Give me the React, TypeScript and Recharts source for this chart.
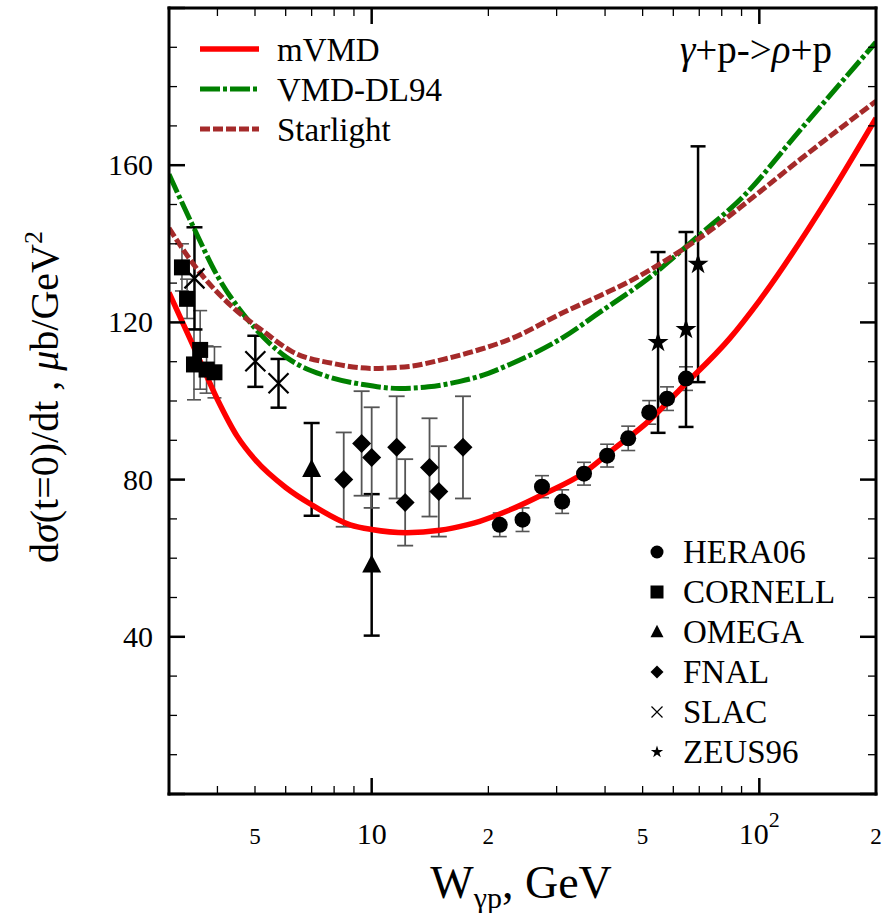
import React from 'react';
import { ComposedChart, Line, Scatter, ErrorBar, XAxis, YAxis } from 'recharts';

const FONT = '"Liberation Serif", "DejaVu Serif", "Times New Roman", serif';

// model curves: W (GeV) and dsigma/dt(t=0) (mub/GeV^2)
const mvmdW = [3, 3.5, 4, 4.5, 5, 6, 7, 8.8, 10, 12.3, 15, 17.6, 19, 23, 28.3, 35, 42, 52, 62.5, 84, 100, 150, 200];
const mvmdSigma = [127.6, 113.1, 100.4, 91, 85.1, 78, 73.6, 68.5, 67.3, 66.5, 67.1, 68.5, 69.4, 72.5, 76.7, 81.5, 87.7, 95, 103, 116, 125.5, 151.5, 172];

const dl94W = [3, 3.49, 3.98, 4.78, 6.03, 7.65, 9.5, 11.8, 14, 16.9, 19, 22.7, 31.2, 38.8, 51.4, 70.4, 91, 127.6, 200];
const dl94Sigma = [157.7, 143.7, 132.2, 120.8, 111.1, 106.3, 104.2, 103.2, 103.6, 105, 106.3, 109.3, 116.2, 122.6, 131, 142.4, 152.1, 169, 191.3];

const starlightW = [3, 3.55, 4.35, 5.29, 6.25, 8, 10, 12.5, 15.3, 19, 22.7, 31.2, 38.8, 46.4, 57.8, 75, 94.8, 127.6, 200];
const starlightSigma = [144, 133.5, 124.1, 117.5, 112.5, 109.5, 108.3, 108.8, 110.6, 113.1, 115.7, 122.5, 126.8, 130.5, 136, 143.5, 151.3, 161.5, 176.3];

// measurements
const heraW = [21.4, 24.5, 27.5, 31.0, 35.3, 40.5, 45.9, 52.0, 57.8, 64.7];
const heraSigma = [68.5, 69.8, 78.2, 74.4, 81.5, 86.1, 90.5, 97.1, 100.6, 105.7];
const heraErr = [3, 3, 2.8, 3, 2.9, 2.9, 3.1, 3, 3, 3];

const cornellW = [3.24, 3.34, 3.61, 3.48, 3.75, 3.93];
const cornellSigma = [134, 126, 113, 109.3, 108, 107.3];
const cornellErr = [6, 5, 10, 9, 6, 6.5];

const omegaW = [7.0, 10.0];
const omegaSigma = [82.6, 58.3];
const omegaErr = [11.8, 18];

const fnalW = [8.47, 9.42, 10.0, 11.6, 12.2, 14.1, 14.9, 17.2];
const fnalSigma = [80, 89.2, 85.6, 88.2, 74.2, 83.1, 77, 88.2];
const fnalErr = [12, 13.3, 12.8, 13, 11, 12.5, 11.5, 13];

const slacW = [3.49, 5.01, 5.75];
const slacSigma = [131.2, 110.1, 104.5];
const slacErr = [13, 6.5, 6.2];

const zeusW = [54.8, 64.7, 69.5];
const zeusSigma = [114.9, 118.2, 134.8];
const zeusErr = [23, 24.8, 30];

// axes
const xMinorTicks = [4, 5, 6, 7, 8, 9, 20, 30, 40, 50, 60, 70, 80, 90, 200];
const xMajorTicks = [10, 100];
const xLabelValues = [5, 10, 20, 50, 100, 200];
const xLabelText = ['5', '10', '2', '5', '10', '2'];
const xLabelSup = ['', '', '', '', '2', ''];
const yTicks = [0, 10, 20, 30, 40, 50, 60, 70, 80, 90, 100, 110, 120, 130, 140, 150, 160, 170, 180, 190, 200];
const yMajorTicks = [0, 40, 80, 120, 160, 200];
const yLabelValues = [40, 80, 120, 160];

const toPoints = (w: number[], s: number[], e?: number[]) =>
  w.map((x, i) => ({ x, y: s[i], err: e ? e[i] : 0 }));

const curves = [
  { name: 'mVMD', data: toPoints(mvmdW, mvmdSigma), color: '#ff0000', dash: undefined, width: 5.5 },
  { name: 'VMD-DL94', data: toPoints(dl94W, dl94Sigma), color: '#008000', dash: '20 3 4 3', width: 5 },
  { name: 'Starlight', data: toPoints(starlightW, starlightSigma), color: '#a52a2a', dash: '10 3', width: 5 },
];

const experiments = [
  { name: 'HERA06', marker: 'circle', data: toPoints(heraW, heraSigma, heraErr), bar: '#555', barW: 1.6, cap: 7, size: 16 },
  { name: 'CORNELL', marker: 'square', data: toPoints(cornellW, cornellSigma, cornellErr), bar: '#555', barW: 1.6, cap: 7, size: 16 },
  { name: 'OMEGA', marker: 'triangle', data: toPoints(omegaW, omegaSigma, omegaErr), bar: '#000', barW: 2.5, cap: 8, size: 19 },
  { name: 'FNAL', marker: 'diamond', data: toPoints(fnalW, fnalSigma, fnalErr), bar: '#555', barW: 1.8, cap: 8, size: 19 },
  { name: 'SLAC', marker: 'cross', data: toPoints(slacW, slacSigma, slacErr), bar: '#000', barW: 2.5, cap: 8, size: 20 },
  { name: 'ZEUS96', marker: 'star', data: toPoints(zeusW, zeusSigma, zeusErr), bar: '#000', barW: 2.5, cap: 7.5, size: 22 },
];

const drawMarker = (kind: string, cx: number, cy: number, s: number, thin = false) => {
  const h = s / 2;
  switch (kind) {
    case 'circle':
      return <circle cx={cx} cy={cy} r={h} fill="#000" />;
    case 'square':
      return <rect x={cx - h} y={cy - h} width={s} height={s} fill="#000" />;
    case 'triangle':
      return <polygon points={`${cx},${cy - s * 0.55} ${cx - h},${cy + s * 0.4} ${cx + h},${cy + s * 0.4}`} fill="#000" />;
    case 'diamond':
      return <polygon points={`${cx},${cy - h} ${cx + h},${cy} ${cx},${cy + h} ${cx - h},${cy}`} fill="#000" />;
    case 'cross':
      return (
        <path
          d={`M${cx - h},${cy - h}L${cx + h},${cy + h}M${cx - h},${cy + h}L${cx + h},${cy - h}`}
          stroke="#000"
          strokeWidth={thin ? 1.2 : 2.2}
          fill="none"
        />
      );
    default: {
      const pts = [];
      for (let k = 0; k < 10; k++) {
        const r = k % 2 === 0 ? h : h * 0.38;
        const a = -Math.PI / 2 + (k * Math.PI) / 5;
        pts.push(`${cx + r * Math.cos(a)},${cy + r * Math.sin(a)}`);
      }
      return <polygon points={pts.join(' ')} fill="#000" />;
    }
  }
};

const frame = { stroke: '#000', strokeWidth: 3, strokeLinecap: 'square' as const };
const txt = { fontFamily: FONT, fill: '#000' };

const bottomTick = (p: any) => {
  const v = p.payload.value;
  const major = xMajorTicks.includes(v);
  const i = xLabelValues.indexOf(v);
  return (
    <g>
      <line x1={p.x} x2={p.x} y1={p.y} y2={p.y - (major ? 16 : 8)} stroke="#000" strokeWidth={major ? 2.5 : 1.3} />
      {i >= 0 && (
        <text x={p.x} y={p.y + 50} textAnchor="middle" fontSize={major ? 30 : 23} style={txt}>
          {xLabelText[i]}
          {xLabelSup[i] && (
            <tspan dy={-17} fontSize={22}>
              {xLabelSup[i]}
            </tspan>
          )}
        </text>
      )}
    </g>
  );
};

const topTick = (p: any) => {
  const major = xMajorTicks.includes(p.payload.value);
  return <line x1={p.x} x2={p.x} y1={p.y} y2={p.y + (major ? 16 : 8)} stroke="#000" strokeWidth={major ? 2.5 : 1.3} />;
};

const leftTick = (p: any) => {
  const v = p.payload.value;
  const major = yMajorTicks.includes(v);
  return (
    <g>
      <line x1={p.x} x2={p.x + (major ? 16 : 8)} y1={p.y} y2={p.y} stroke="#000" strokeWidth={major ? 2.5 : 1.3} />
      {yLabelValues.includes(v) && (
        <text x={p.x - 16} y={p.y + 10} textAnchor="end" fontSize={30} style={txt}>
          {v}
        </text>
      )}
    </g>
  );
};

const rightTick = (p: any) => {
  const major = yMajorTicks.includes(p.payload.value);
  return <line x1={p.x} x2={p.x - (major ? 16 : 8)} y1={p.y} y2={p.y} stroke="#000" strokeWidth={major ? 2.5 : 1.3} />;
};

export default function App() {
  return (
    <div style={{ position: 'absolute', left: 0, top: 0, width: 889, height: 913, background: '#fff', fontFamily: FONT }}>
      <ComposedChart width={889} height={913} margin={{ top: 7, right: 12, bottom: 59, left: 109 }}>
        <XAxis
          xAxisId="b"
          dataKey="x"
          type="number"
          scale="log"
          domain={[3, 200]}
          allowDataOverflow
          ticks={[...xMinorTicks, ...xMajorTicks]}
          interval={0}
          tickSize={0}
          tickMargin={0}
          tickLine={false}
          axisLine={frame}
          height={60}
          tick={bottomTick}
        />
        <XAxis
          xAxisId="t"
          orientation="top"
          dataKey="x"
          type="number"
          scale="log"
          domain={[3, 200]}
          allowDataOverflow
          ticks={[...xMinorTicks, ...xMajorTicks]}
          interval={0}
          tickSize={0}
          tickMargin={0}
          tickLine={false}
          axisLine={frame}
          height={1}
          tick={topTick}
        />
        <YAxis
          yAxisId="l"
          dataKey="y"
          type="number"
          domain={[0, 200]}
          allowDataOverflow
          ticks={yTicks}
          interval={0}
          tickSize={0}
          tickMargin={0}
          tickLine={false}
          axisLine={frame}
          width={60}
          tick={leftTick}
        />
        <YAxis
          yAxisId="r"
          orientation="right"
          dataKey="y"
          type="number"
          domain={[0, 200]}
          allowDataOverflow
          ticks={yTicks}
          interval={0}
          tickSize={0}
          tickMargin={0}
          tickLine={false}
          axisLine={frame}
          width={1}
          tick={rightTick}
        />
        {experiments.map((e) => (
          <Scatter
            key={e.name}
            name={e.name}
            data={e.data}
            dataKey="y"
            xAxisId="b"
            yAxisId="l"
            isAnimationActive={false}
            shape={(p: any) => drawMarker(e.marker, p.cx, p.cy, e.size)}
          >
            <ErrorBar dataKey="err" direction="y" width={e.cap} stroke={e.bar} strokeWidth={e.barW} />
          </Scatter>
        ))}
        {curves.map((c) => (
          <Line
            key={c.name}
            name={c.name}
            data={c.data}
            dataKey="y"
            xAxisId="b"
            yAxisId="l"
            type="monotone"
            stroke={c.color}
            strokeWidth={c.width}
            strokeDasharray={c.dash}
            dot={false}
            activeDot={false}
            isAnimationActive={false}
          />
        ))}
      </ComposedChart>
      <svg
        width={889}
        height={913}
        style={{ position: 'absolute', left: 0, top: 0, pointerEvents: 'none', fontFamily: FONT }}
      >
        {curves.map((c, i) => (
          <g key={c.name}>
            <line x1={200} x2={259} y1={49 + i * 40} y2={49 + i * 40} stroke={c.color} strokeWidth={c.width} strokeDasharray={c.dash} />
            <text x={277} y={61 + i * 40} fontSize={33} style={txt}>
              {c.name}
            </text>
          </g>
        ))}
        {experiments.map((e, i) => (
          <g key={e.name}>
            {drawMarker(e.marker, 657, 552 + i * 40, e.marker === 'cross' ? 11 : 13, true)}
            <text x={683} y={563 + i * 40} fontSize={33} style={txt}>
              {e.name}
            </text>
          </g>
        ))}
        <text x={832} y={63} textAnchor="end" fontSize={39} style={txt}>
          <tspan fontStyle="italic">γ</tspan>+p-&gt;<tspan fontStyle="italic">ρ</tspan>+p
        </text>
        <text x={521} y={898} textAnchor="middle" fontSize={46} style={{ ...txt, whiteSpace: 'pre' }}>
          W<tspan dy={10} fontSize={30}>γp</tspan>
          <tspan dy={-10}>, GeV</tspan>
        </text>
        <text
          x={58}
          y={397}
          transform="rotate(-90, 58, 397)"
          textAnchor="middle"
          fontSize={40}
          style={txt}
        >
          d<tspan fontStyle="italic">σ</tspan>(t=0)/dt , <tspan fontStyle="italic">μ</tspan>b/GeV
          <tspan dy={-16} fontSize={26}>2</tspan>
        </text>
      </svg>
    </div>
  );
}
